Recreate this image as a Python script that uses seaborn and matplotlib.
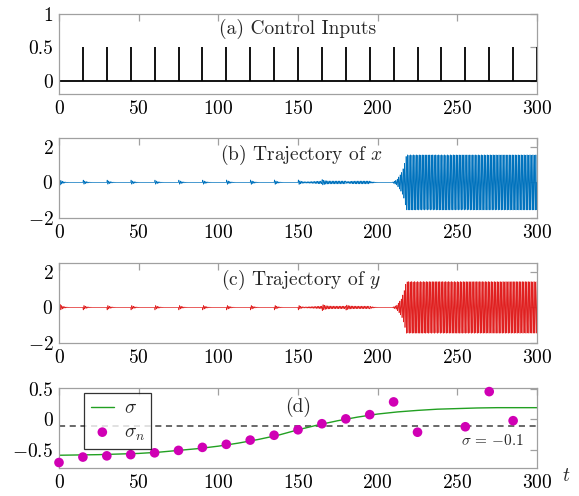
import numpy as np
import pandas as pd
import matplotlib
matplotlib.use("Agg")
import matplotlib.pyplot as plt
import seaborn as sns

# ---------------- data ----------------
# (a) impulse control inputs
impulse_t = [0, 15, 30, 45, 60, 75, 90, 105, 120, 135, 150, 165, 180, 195,
             210, 225, 240, 255, 270, 285, 300]
impulse_h = [0.5, 0.5, 0.5, 0.5, 0.5, 0.5, 0.5, 0.5, 0.5, 0.5, 0.5, 0.5, 0.5,
             0.5, 0.5, 0.5, 0.5, 0.5, 0.5, 0.5, 0.5]

# (b)/(c) trajectories: kick responses and sustained-oscillation envelope
kick_t = [0, 15, 30, 45, 60, 75, 90, 105, 120, 135, 150, 165, 180, 195]
kick_amp_x = [0.22, 0.15, 0.15, 0.15, 0.15, 0.15, 0.15, 0.16, 0.16, 0.16,
              0.16, 0.13, 0.11, 0.11]
kick_amp_y = [0.26, 0.16, 0.16, 0.16, 0.16, 0.16, 0.16, 0.16, 0.16, 0.16,
              0.16, 0.13, 0.11, 0.11]
env_t = [0, 150, 155, 165, 195, 197, 209, 212, 215, 216.5, 218, 300]
env_x = [0, 0, 0.03, 0.08, 0.08, 0.0, 0.0, 0.15, 0.55, 0.9, 1.55, 1.55]
env_y = [0, 0, 0.03, 0.07, 0.07, 0.0, 0.0, 0.12, 0.5, 0.9, 1.45, 1.45]
osc_freq = 1.08  # cycles per time unit

# (d) sigma (smooth curve) and sigma_n (estimates)
sigma_t = [0, 12.5, 25, 37.5, 50, 62.5, 75, 87.5, 100, 112.5, 125, 137.5, 150,
           162.5, 175, 187.5, 200, 212.5, 225, 237.5, 250, 262.5, 275, 287.5, 300]
sigma_v = [-0.59, -0.585, -0.58, -0.57, -0.56, -0.54, -0.51, -0.48, -0.44,
           -0.39, -0.33, -0.26, -0.17, -0.09, -0.02, 0.04, 0.09, 0.125, 0.15,
           0.17, 0.18, 0.19, 0.195, 0.195, 0.195]
sigma_n_t = [0, 15, 30, 45, 60, 75, 90, 105, 120, 135, 150, 165, 180, 195,
             210, 225, 255, 270, 285]
sigma_n_v = [-0.71, -0.62, -0.60, -0.58, -0.55, -0.51, -0.46, -0.41, -0.34,
             -0.26, -0.17, -0.07, 0.01, 0.08, 0.29, -0.21, -0.12, 0.46, -0.02]
threshold = -0.1

# ---------------- build trajectory signals ----------------
t = np.arange(0, 300.001, 0.05)
w = 2 * np.pi * osc_freq
xs = np.interp(t, env_t, env_x) * np.sin(w * t)
ys = np.interp(t, env_t, env_y) * np.cos(w * t)
for tk, ax_, ay_ in zip(kick_t, kick_amp_x, kick_amp_y):
    m = t >= tk
    d = t[m] - tk
    xs[m] += ax_ * np.exp(-d / 1.8) * np.sin(w * d)
    ys[m] += -ay_ * np.exp(-d / 1.8) * np.sin(w * d)
traj = pd.DataFrame({"t": t, "x": xs, "y": ys})

# ---------------- style ----------------
sns.set_theme(style="white")
plt.rcParams["font.family"] = ["cmr10", "DejaVu Serif"]
plt.rcParams["mathtext.fontset"] = "cm"
plt.rcParams["axes.formatter.use_mathtext"] = True
plt.rcParams["axes.unicode_minus"] = True

FS = 14
frame_col = "#a0a0a0"

fig = plt.figure(figsize=(5.79, 4.96), dpi=100)
left, width, height = 0.1019, 0.8256, 0.1613
bottoms = [0.8105, 0.5605, 0.3085, 0.0565]
axes = [fig.add_axes([left, b, width, height]) for b in bottoms]

for ax in axes:
    ax.set_xlim(0, 300)
    ax.set_xticks([0, 50, 100, 150, 200, 250, 300])
    for s in ax.spines.values():
        s.set_color(frame_col)
        s.set_linewidth(0.9)
    ax.tick_params(direction="in", top=True, right=True, length=5, width=0.9,
                   color=frame_col, labelsize=FS, pad=4, labelcolor="black")

# (a)
ax = axes[0]
ax.vlines(impulse_t, 0, impulse_h, color="black", lw=1.3)
ax.axhline(0, color="black", lw=1.3)
ax.set_ylim(-0.2, 1)
ax.set_yticks([0, 0.5, 1])
ax.set_yticklabels(["0", "0.5", "1"])
ax.text(150, 0.78, "(a) Control Inputs", ha="center", va="center", fontsize=FS)

# (b)
ax = axes[1]
sns.lineplot(data=traj, x="t", y="x", ax=ax, color="#0072BD", lw=0.5,
             estimator=None, sort=False)
ax.set_ylim(-2, 2.5)
ax.set_yticks([-2, 0, 2])
ax.text(152, 1.55, "(b) Trajectory of $x$", ha="center", va="center", fontsize=FS)

# (c)
ax = axes[2]
sns.lineplot(data=traj, x="t", y="y", ax=ax, color="#E02020", lw=0.5,
             estimator=None, sort=False)
ax.set_ylim(-2, 2.5)
ax.set_yticks([-2, 0, 2])
ax.text(152, 1.55, "(c) Trajectory of $y$", ha="center", va="center", fontsize=FS)

# (d)
ax = axes[3]
ax.axhline(threshold, color="#404040", lw=1.1, ls=(0, (4, 3)))
sig_df = pd.DataFrame({"t": sigma_t, "v": sigma_v})
sn_df = pd.DataFrame({"t": sigma_n_t, "v": sigma_n_v})
sns.lineplot(data=sig_df, x="t", y="v", ax=ax, color="#22a022", lw=1.0,
             label=r"$\sigma$")
sns.scatterplot(data=sn_df, x="t", y="v", ax=ax, color="#d000b4", s=48,
                edgecolor="none", label=r"$\sigma_n$", clip_on=False, zorder=5)
ax.set_ylim(-0.8, 0.52)
ax.set_yticks([-0.5, 0, 0.5])
ax.set_yticklabels(["$-0.5$", "0", "0.5"])
ax.text(150, 0.2, "(d)", ha="center", va="center", fontsize=FS)
ax.text(272, -0.34, r"$\sigma$ = $-$0.1", ha="center", va="center", fontsize=11)
ax.text(1.06, -0.1, "$t$", transform=ax.transAxes, ha="center", va="center",
        fontsize=FS)
leg = ax.legend(loc="upper left", bbox_to_anchor=(0.052, 0.94), borderaxespad=0,
                fontsize=FS, frameon=True, fancybox=False, handlelength=1.2,
                borderpad=0.35, labelspacing=0.3, handletextpad=0.5)
leg.get_frame().set_edgecolor("black")
leg.get_frame().set_linewidth(0.9)

for ax in axes:
    ax.set_xlabel("")
    ax.set_ylabel("")

fig.savefig("out.png", dpi=100)
